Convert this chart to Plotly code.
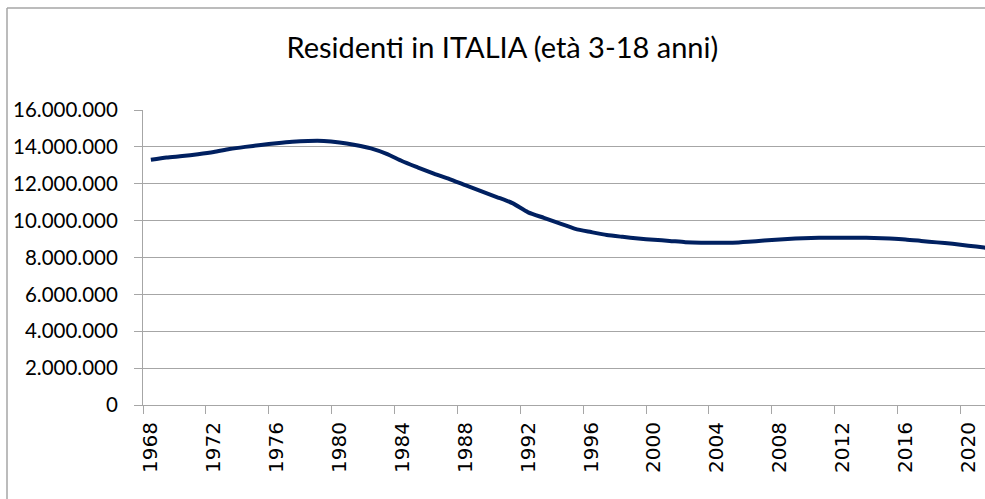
import plotly.graph_objects as go

years = [1968, 1969, 1970, 1971, 1972, 1973, 1974, 1975, 1976, 1977,
         1978, 1979, 1980, 1981, 1982, 1983, 1984, 1985, 1986, 1987,
         1988, 1989, 1990, 1991, 1992, 1993, 1994, 1995, 1996, 1997,
         1998, 1999, 2000, 2001, 2002, 2003, 2004, 2005, 2006, 2007,
         2008, 2009, 2010, 2011, 2012, 2013, 2014, 2015, 2016, 2017,
         2018, 2019, 2020, 2021, 2022]

residents = [13300000, 13420000, 13500000, 13600000, 13720000, 13880000, 14000000, 14100000, 14200000, 14280000,
             14320000, 14320000, 14240000, 14100000, 13920000, 13620000, 13220000, 12880000, 12550000, 12250000,
             11920000, 11600000, 11280000, 10950000, 10450000, 10150000, 9850000, 9550000, 9380000, 9220000,
             9120000, 9030000, 8960000, 8900000, 8830000, 8800000, 8800000, 8800000, 8850000, 8920000,
             8980000, 9030000, 9060000, 9070000, 9070000, 9070000, 9060000, 9030000, 8980000, 8900000,
             8820000, 8740000, 8640000, 8540000, 8420000]

label_years = [1968, 1972, 1976, 1980, 1984, 1988, 1992, 1996, 2000, 2004, 2008, 2012, 2016, 2020]
y_ticks = [0, 2000000, 4000000, 6000000, 8000000, 10000000, 12000000, 14000000, 16000000]
title_text = "Residenti in ITALIA (età 3-18 anni)"

GRID = "#a6a6a6"

fig = go.Figure()
fig.add_trace(go.Scatter(
    x=years, y=residents, mode="lines",
    line=dict(color="#002060", width=4, shape="spline", smoothing=0.6),
    hoverinfo="skip", showlegend=False,
))

fig.update_layout(
    width=985, height=499,
    margin=dict(l=143, r=0, t=110, b=94),
    paper_bgcolor="white", plot_bgcolor="white",
    separators=",.",
    title=dict(text=title_text, x=0.51, xanchor="center", xref="container",
               y=1 - 48 / 499, yanchor="middle", yref="container",
               font=dict(family="Lato", size=29, color="#000000")),
    showlegend=False,
)

fig.update_xaxes(
    range=[1967.5, 2021.06], tickmode="array", tickvals=label_years,
    ticktext=[str(v) for v in label_years], tickangle=-90, ticks="",
    tickfont=dict(family="DejaVu Sans", size=20, color="#000000"),
    ticklabelstandoff=8,
    showgrid=False, showline=True, linecolor=GRID, linewidth=1,
    minor=dict(tickmode="array", tickvals=[v - 0.5 for v in label_years],
               ticks="outside", ticklen=8, tickcolor=GRID, tickwidth=1, showgrid=False),
    zeroline=False,
)
fig.update_yaxes(
    range=[0, 16000000], tickmode="array", tickvals=y_ticks, tickformat=",d",
    ticks="outside", ticklen=8, tickcolor=GRID, tickwidth=1,
    tickfont=dict(family="Lato", size=20.5, color="#000000"),
    ticklabelstandoff=12,
    showgrid=True, gridcolor=GRID, gridwidth=1,
    showline=True, linecolor=GRID, linewidth=1, zeroline=False,
)

# outer chart-area border (only left and top edges are visible in the reference)
bx = (7 - 143) / 842
by = (405 - 8) / 295
fig.add_shape(type="line", xref="paper", yref="paper", x0=bx, x1=bx, y0=-1.0, y1=by,
              line=dict(color=GRID, width=1.5), layer="below")
fig.add_shape(type="line", xref="paper", yref="paper", x0=bx, x1=1.2, y0=by, y1=by,
              line=dict(color=GRID, width=1.5), layer="below")

fig.write_html("out.html", config={"displayModeBar": False},
               post_script="document.body.style.margin='0';document.body.style.overflow='hidden';")
